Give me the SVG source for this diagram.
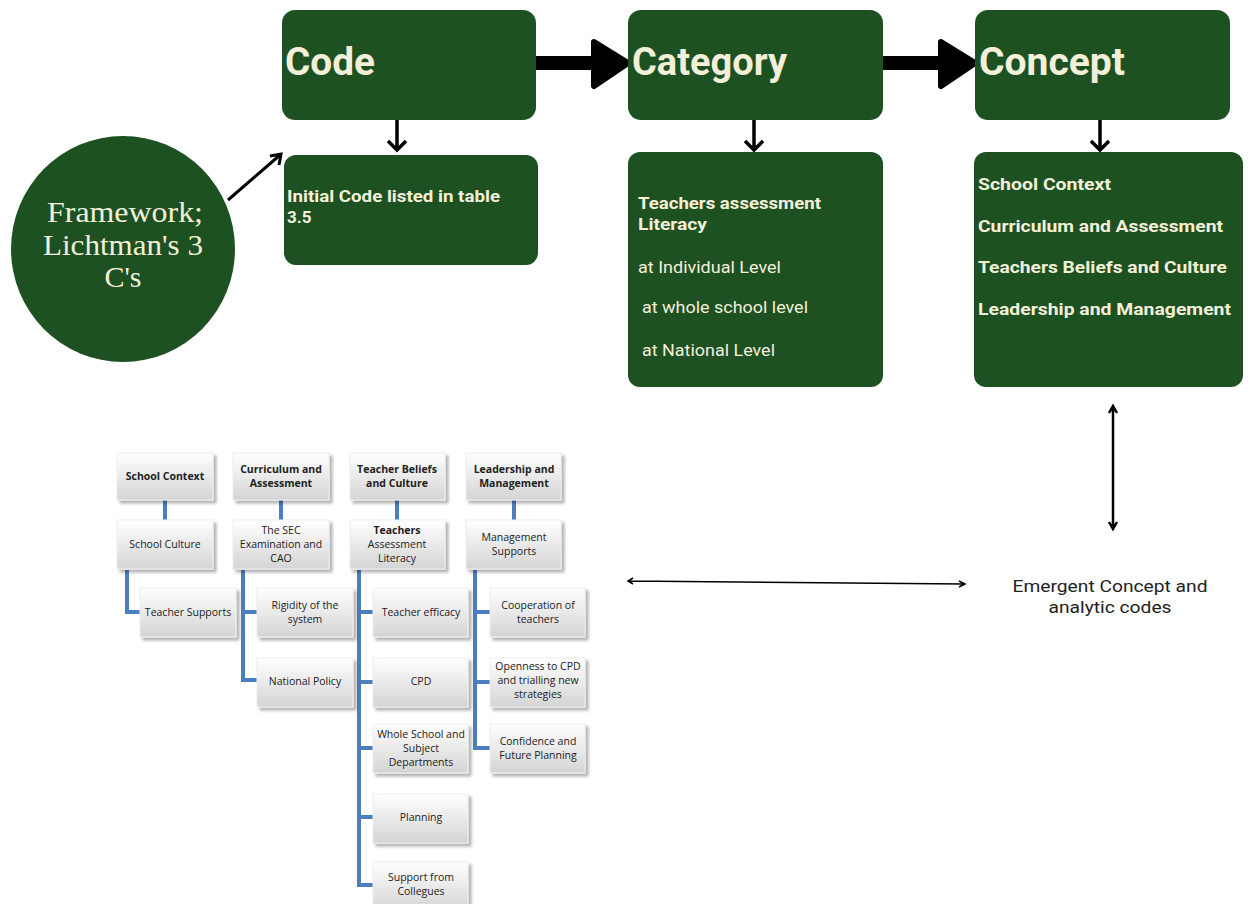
<svg xmlns="http://www.w3.org/2000/svg" width="1252" height="904" viewBox="0 0 1252 904">
<defs>
<style>
.g{fill:#1d5122}
.big{font-family:"Roboto","Liberation Sans",sans-serif;font-weight:bold;font-size:38px;fill:#f3efd9}
.t{font-family:"Roboto","Liberation Sans",sans-serif;font-size:17px;fill:#f3efd9}
.b{font-weight:bold}
.fw{font-family:"Liberation Serif","DejaVu Serif",serif;font-size:30px;fill:#f3efd9;text-anchor:middle}
.em{font-family:"Roboto","Liberation Sans",sans-serif;font-size:17px;fill:#222;text-anchor:middle}
.ob{fill:url(#gr);stroke:#eeeeee;stroke-width:1;filter:url(#sh)}
.ot{font-family:"Open Sans","Liberation Sans",sans-serif;font-size:10.5px;fill:#222;text-anchor:middle}
.oc{stroke:#4a7fbf;stroke-width:4;fill:none}
.ar{stroke:#000;fill:none}
</style>
<linearGradient id="gr" x1="0" y1="0" x2="0" y2="1">
<stop offset="0" stop-color="#ffffff"/>
<stop offset="1" stop-color="#d4d4d4"/>
</linearGradient>
<filter id="sh" x="-20%" y="-20%" width="150%" height="160%">
<feDropShadow dx="3" dy="3" stdDeviation="1.5" flood-color="#000" flood-opacity="0.3"/>
</filter>
</defs>

<g id="connectors">
<path class="ar" d="M536 63H600" stroke-width="14"/>
<path d="M594 42L628 63L594 86Z" fill="#000" stroke="#000" stroke-width="6" stroke-linejoin="round"/>
<path class="ar" d="M883 63H946" stroke-width="14"/>
<path d="M941 42L975 63L941 86Z" fill="#000" stroke="#000" stroke-width="6" stroke-linejoin="round"/>
<path class="ar" d="M397 103V150M388 141L397 150L406 141" stroke-width="3.5"/>
<path class="ar" d="M754 103V150M745 141L754 150L763 141" stroke-width="3.5"/>
<path class="ar" d="M1100 103V150M1091 141L1100 150L1109 141" stroke-width="3.5"/>
<path class="ar" d="M228 200L280 155M270 156L281 154L279 165" stroke-width="3"/>
<path class="ar" d="M1113 407V528M1109 413L1113 406L1117 413M1109 522L1113 529L1117 522" stroke-width="2.5"/>
<path class="ar" d="M629 581L964 584M633 578L628 581L633 584M959 581L965 584L959 587" stroke-width="1.5"/>
<path class="oc" d="M165 500V520M281 500V520M397 500V520M514 500V520"/>
<path class="oc" d="M127 570V612H142"/>
<path class="oc" d="M243 570V680H259M243 612H259"/>
<path class="oc" d="M359 570V885H375M359 612H375M359 682H375M359 748H375M359 817H375"/>
<path class="oc" d="M475 570V748H492M475 612H492M475 682H492"/>
</g>

<g id="code">
<rect class="g" x="282" y="10" width="254" height="110" rx="13"/>
<text class="big" x="285" y="75" textLength="90" lengthAdjust="spacingAndGlyphs">Code</text>
</g>
<g id="category">
<rect class="g" x="628" y="10" width="255" height="110" rx="13"/>
<text class="big" x="632" y="75" textLength="155" lengthAdjust="spacingAndGlyphs">Category</text>
</g>
<g id="concept">
<rect class="g" x="975" y="10" width="255" height="110" rx="13"/>
<text class="big" x="979" y="75" textLength="146" lengthAdjust="spacingAndGlyphs">Concept</text>
</g>
<g id="initial">
<rect class="g" x="284" y="155" width="254" height="110" rx="12"/>
<text class="t b" x="287" y="202" textLength="213" lengthAdjust="spacingAndGlyphs">Initial Code listed in table</text>
<text class="t b" x="287" y="223">3.5</text>
</g>
<g id="category-detail">
<rect class="g" x="628" y="152" width="255" height="235" rx="12"/>
<text class="t b" x="638" y="209" textLength="183" lengthAdjust="spacingAndGlyphs">Teachers assessment</text>
<text class="t b" x="638" y="230" textLength="69" lengthAdjust="spacingAndGlyphs">Literacy</text>
<text class="t" x="638" y="273" textLength="143" lengthAdjust="spacingAndGlyphs">at Individual Level</text>
<text class="t" x="642" y="313" textLength="166" lengthAdjust="spacingAndGlyphs">at whole school level</text>
<text class="t" x="642" y="356" textLength="133" lengthAdjust="spacingAndGlyphs">at National Level</text>
</g>
<g id="concept-detail">
<rect class="g" x="974" y="152" width="269" height="235" rx="12"/>
<text class="t b" x="978" y="190" textLength="133" lengthAdjust="spacingAndGlyphs">School Context</text>
<text class="t b" x="978" y="232" textLength="245" lengthAdjust="spacingAndGlyphs">Curriculum and Assessment</text>
<text class="t b" x="978" y="273" textLength="249" lengthAdjust="spacingAndGlyphs">Teachers Beliefs and Culture</text>
<text class="t b" x="978" y="315" textLength="253" lengthAdjust="spacingAndGlyphs">Leadership and Management</text>
</g>
<g id="framework">
<ellipse class="g" cx="123" cy="249" rx="112" ry="113"/>
<text class="fw" x="125" y="222" textLength="156" lengthAdjust="spacingAndGlyphs">Framework;</text>
<text class="fw" x="123" y="255" textLength="160" lengthAdjust="spacingAndGlyphs">Lichtman's 3</text>
<text class="fw" x="123" y="287">C's</text>
</g>
<g id="emergent">
<text class="em" x="1110" y="592" textLength="195" lengthAdjust="spacingAndGlyphs">Emergent Concept and</text>
<text class="em" x="1110" y="613" textLength="123" lengthAdjust="spacingAndGlyphs">analytic codes</text>
</g>

<g id="org-school-context"><rect class="ob" x="117" y="453" width="96" height="47"/><text class="ot b" x="165" y="480">School Context</text></g>
<g id="org-curriculum"><rect class="ob" x="233" y="453" width="96" height="47"/><text class="ot b" x="281" y="473">Curriculum and</text><text class="ot b" x="281" y="487">Assessment</text></g>
<g id="org-beliefs"><rect class="ob" x="350" y="453" width="95" height="47"/><text class="ot b" x="397" y="473">Teacher Beliefs</text><text class="ot b" x="397" y="487">and Culture</text></g>
<g id="org-leadership"><rect class="ob" x="466" y="453" width="95" height="47"/><text class="ot b" x="514" y="473">Leadership and</text><text class="ot b" x="514" y="487">Management</text></g>

<g id="org-school-culture"><rect class="ob" x="117" y="520" width="96" height="49"/><text class="ot" x="165" y="548">School Culture</text></g>
<g id="org-sec"><rect class="ob" x="233" y="520" width="96" height="49"/><text class="ot" x="281" y="534">The SEC</text><text class="ot" x="281" y="548">Examination and</text><text class="ot" x="281" y="562">CAO</text></g>
<g id="org-tal"><rect class="ob" x="350" y="520" width="95" height="49"/><text class="ot b" x="397" y="534">Teachers</text><text class="ot" x="397" y="548">Assessment</text><text class="ot" x="397" y="562">Literacy</text></g>
<g id="org-mgmt"><rect class="ob" x="466" y="520" width="95" height="49"/><text class="ot" x="514" y="541">Management</text><text class="ot" x="514" y="555">Supports</text></g>

<g id="org-teacher-supports"><rect class="ob" x="140" y="588" width="96" height="49"/><text class="ot" x="188" y="616">Teacher Supports</text></g>
<g id="org-rigidity"><rect class="ob" x="257" y="588" width="96" height="49"/><text class="ot" x="305" y="609">Rigidity of the</text><text class="ot" x="305" y="623">system</text></g>
<g id="org-national"><rect class="ob" x="257" y="658" width="96" height="49"/><text class="ot" x="305" y="685">National Policy</text></g>

<g id="org-efficacy"><rect class="ob" x="373" y="588" width="95" height="49"/><text class="ot" x="421" y="616">Teacher efficacy</text></g>
<g id="org-cpd"><rect class="ob" x="373" y="658" width="95" height="49"/><text class="ot" x="421" y="685">CPD</text></g>
<g id="org-whole"><rect class="ob" x="373" y="724" width="95" height="49"/><text class="ot" x="421" y="738">Whole School and</text><text class="ot" x="421" y="752">Subject</text><text class="ot" x="421" y="766">Departments</text></g>
<g id="org-planning"><rect class="ob" x="373" y="794" width="95" height="49"/><text class="ot" x="421" y="821">Planning</text></g>
<g id="org-support"><rect class="ob" x="373" y="862" width="95" height="49"/><text class="ot" x="421" y="881">Support from</text><text class="ot" x="421" y="895">Collegues</text></g>

<g id="org-cooperation"><rect class="ob" x="490" y="588" width="95" height="49"/><text class="ot" x="538" y="609">Cooperation of</text><text class="ot" x="538" y="623">teachers</text></g>
<g id="org-openness"><rect class="ob" x="490" y="658" width="95" height="49"/><text class="ot" x="538" y="670">Openness to CPD</text><text class="ot" x="538" y="684">and trialling new</text><text class="ot" x="538" y="698">strategies</text></g>
<g id="org-confidence"><rect class="ob" x="490" y="724" width="95" height="49"/><text class="ot" x="538" y="745">Confidence and</text><text class="ot" x="538" y="759">Future Planning</text></g>
</svg>
